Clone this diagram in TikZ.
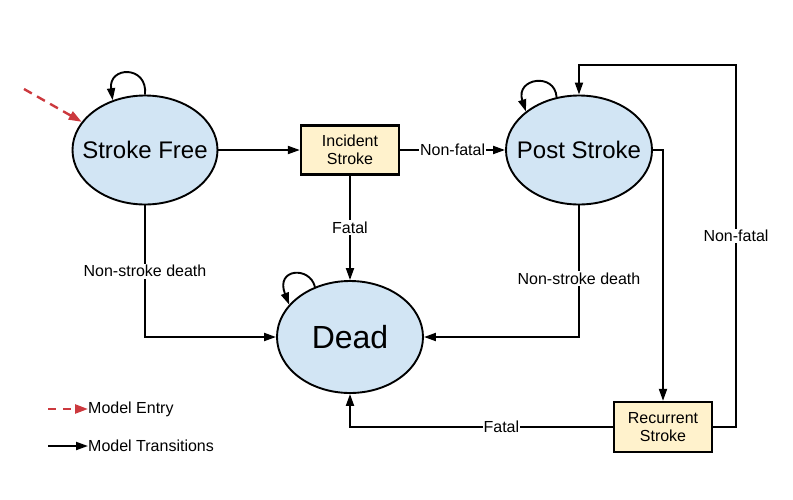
\documentclass[tikz,border=0pt]{standalone}
\usepackage{fontspec}
\setmainfont{Liberation Sans}
\usetikzlibrary{arrows.meta,shapes.geometric}
\definecolor{stateblue}{RGB}{210,229,244}
\definecolor{boxyellow}{RGB}{255,242,204}
\definecolor{entryred}{RGB}{204,57,62}
\begin{document}
\begin{tikzpicture}[x=1pt,y=-1pt,
  state/.style={ellipse,draw=black,line width=1.9pt,fill=stateblue,inner sep=0pt,font=\fontsize{24}{28}\selectfont},
  eventbox/.style={rectangle,draw=black,line width=2.3pt,fill=boxyellow,minimum width=98pt,minimum height=49pt,inner sep=0pt,align=center,font=\fontsize{16}{18.5}\selectfont},
  arr/.style={line width=1.9pt,-{Triangle[length=12pt,width=8pt]}},
  lab/.style={fill=white,inner sep=1.5pt,font=\fontsize{16}{18}\selectfont},
  legtext/.style={anchor=west,inner sep=0pt,font=\fontsize{16}{18}\selectfont},
  entryarr/.style={draw=entryred,line width=2.4pt,dash pattern=on 9pt off 6pt,-{Triangle[length=13pt,width=9pt]}}
]
\useasboundingbox (0,0) rectangle (793,499);

% states
\node[state,minimum width=145pt,minimum height=109pt] (sf) at (145,150) {\makebox[0pt]{Stroke Free}};
\node[state,minimum width=146pt,minimum height=109pt] (ps) at (579,150) {\makebox[0pt]{Post Stroke}};
\node[state,minimum width=146pt,minimum height=112pt,font=\fontsize{32}{36}\selectfont] (dead) at (350,337) {\makebox[0pt]{Dead}};
\node[eventbox] (is) at (350,150) {Incident\\Stroke};
\node[eventbox,minimum height=50pt] (rs) at (663,427) {Recurrent\\Stroke};
\coordinate (tr) at (736,65);
\coordinate (entry) at (24,89);

% entry
\draw[entryarr] (entry) -- (sf.156);

% self loops
\draw[arr] (sf.north) .. controls (148,65) and (108,66) .. (sf.123);
\draw[arr] (ps.113) .. controls (555,72) and (515,78) .. (ps.144);
\draw[arr] (dead.125) .. controls (310,266) and (275,268) .. (dead.152);

% transitions
\draw[arr] (sf.east) -- (is.west);
\draw[arr] (is.east) -- node[lab,inner sep=1pt] {Non-fatal} (ps.west);
\draw[arr] (is.south) -- node[lab] {Fatal} (dead.north);
\draw[arr] (sf.south) |- node[lab,pos=0.25] {Non-stroke death} (dead.west);
\draw[arr] (ps.south) |- node[lab,pos=0.277] {Non-stroke death} (dead.east);
\draw[arr] (ps.east) -| (rs.north);
\draw[arr] (rs.east) -| (tr) -| (ps.north);
\node[lab] (nf2) at (736,236) {Non-fatal};
\draw[arr] (rs.west) -| node[lab,pos=0.212,inner sep=1pt] {Fatal} (dead.south);

% legend
\node[legtext] (le) at (88,409) {Model Entry};
\node[legtext] (lt) at (88,446) {Model Transitions};
\coordinate (les) at (48,409);
\coordinate (lts) at (48,446);
\draw[entryarr,dash pattern=on 8pt off 7pt] (les) -- (le.west);
\draw[arr] (lts) -- (lt.west);
\end{tikzpicture}
\end{document}
